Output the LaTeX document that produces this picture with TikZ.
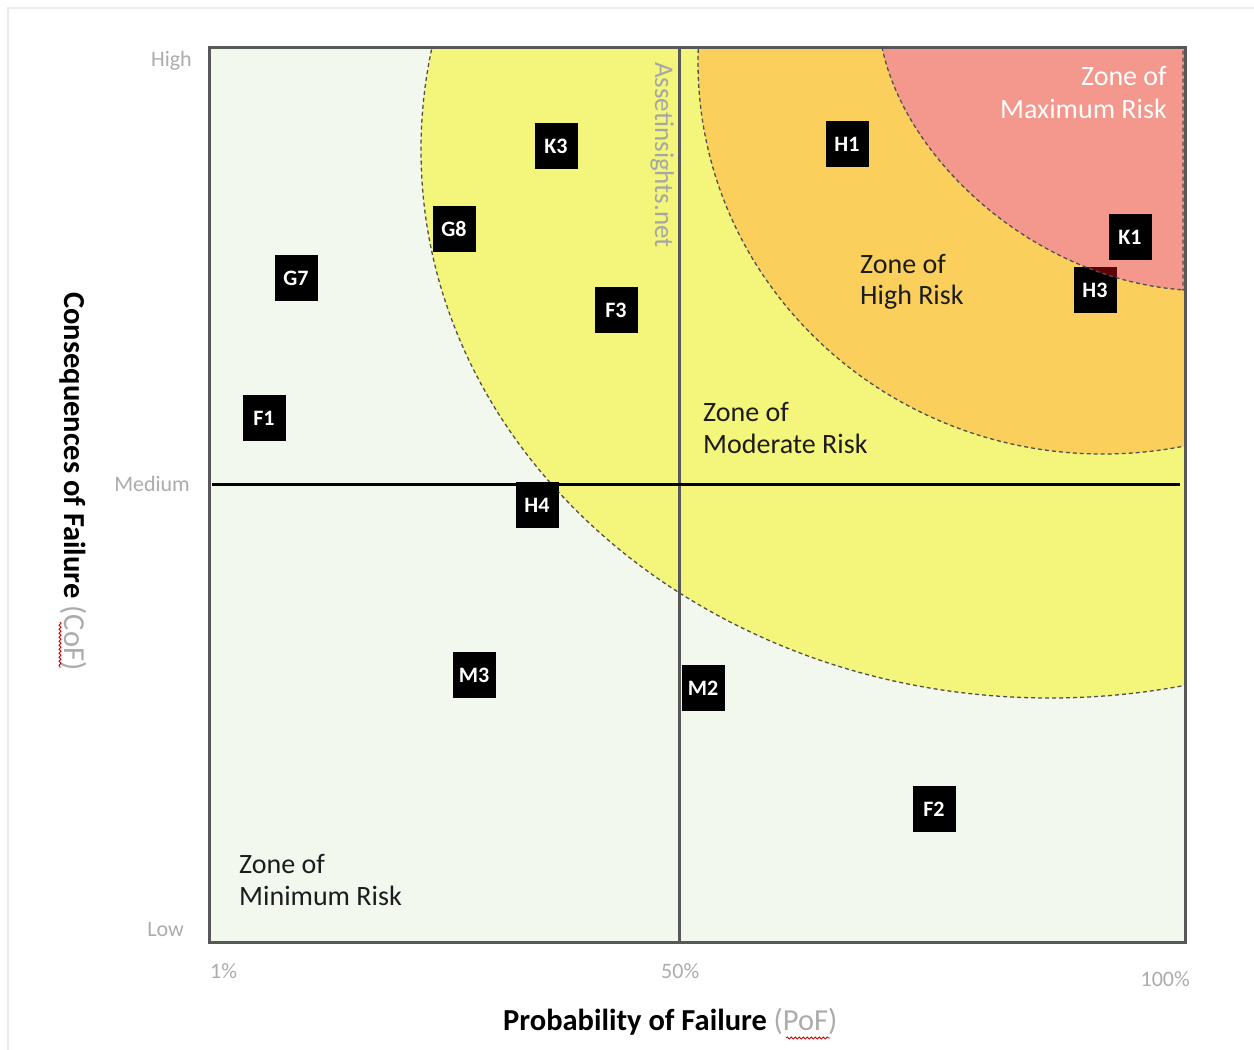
\documentclass[tikz,border=0pt]{standalone}
\usepackage{fontspec}
\setmainfont{Carlito}
\usetikzlibrary{decorations.pathmorphing}
\definecolor{plotbg}{RGB}{242,248,237}
\definecolor{modzone}{RGB}{243,246,122}
\definecolor{highzone}{RGB}{250,207,92}
\definecolor{maxzone}{RGB}{244,151,141}
\definecolor{framegray}{RGB}{88,88,88}
\definecolor{tickgray}{RGB}{172,172,172}
\definecolor{edgegray}{RGB}{80,80,80}
\definecolor{shadowred}{RGB}{92,4,10}
\definecolor{labelink}{RGB}{28,28,28}
\begin{document}
\begin{tikzpicture}[x=1pt,y=-1pt,
  badge/.style={fill=black, minimum width=43pt, minimum height=46pt, inner sep=0pt,
    text=white, font=\fontsize{22}{22}\selectfont\bfseries},
  zoneborder/.style={draw=edgegray, line width=1.3pt, dash pattern=on 4pt off 3pt},
  zonetext/.style={font=\fontsize{28}{28}\selectfont, text=labelink, inner sep=0pt},
  ticktext/.style={font=\fontsize{22}{22}\selectfont, text=tickgray, inner sep=0pt},
  axistitle/.style={font=\fontsize{30.5}{30.5}\selectfont\bfseries, inner sep=0pt},
  squiggle/.style={draw=red!80!black, line width=0.8pt, decorate,
    decoration={snake, amplitude=1.1pt, segment length=4pt}},
  maxedge/.style={insert path={(882,47) .. controls (905,160) and (1035,280) .. (1185,290)}}
]
\useasboundingbox (0,0) rectangle (1254,1050);
\fill[white] (0,0) rectangle (1254,1050);
% faint page edge
\draw[black!8, line width=1.5pt] (8,1050) -- (8,8) -- (1254,8);

% plot area
\coordinate (plotNW) at (209,47);
\coordinate (plotSE) at (1185,942);
\fill[plotbg] (plotNW) rectangle (plotSE);

% risk zones
\begin{scope}
  \clip (plotNW) rectangle (plotSE);
  \fill[modzone] (1050,150) ellipse [x radius=629pt, y radius=548pt];
  \draw[zoneborder] (1050,150) ellipse [x radius=629pt, y radius=548pt];
  \fill[highzone] (1103,62) ellipse [x radius=405pt, y radius=392pt];
  \draw[zoneborder] (1103,62) ellipse [x radius=405pt, y radius=392pt];
  \fill[maxzone, maxedge] -- (1185,47) -- cycle;
\end{scope}

% watermark
\node[rotate=-90, anchor=base west, inner sep=0pt, text=black!35,
  font=\fontsize{27}{27}\selectfont] (mark) at (655,62) {Assetinsights.net};

% quadrant dividers
\coordinate (midTop) at (679,47);
\coordinate (midBot) at (679,942);
\coordinate (midL) at (212,484);
\coordinate (midR) at (1180,484);
\draw[framegray, line width=3pt] (midTop) -- (midBot);
\draw[black, line width=3pt] (midL) -- (midR);

% plot frame
\draw[framegray, line width=3pt] (plotNW) rectangle (plotSE);

% assets
\node[badge] (K3) at (556,146) {K3};
\node[badge] (G8) at (454,229) {G8};
\node[badge] (F3) at (616,310) {F3};
\node[badge] (G7) at (296,278) {G7};
\node[badge] (F1) at (264,418) {F1};
\node[badge] (H1) at (847,144) {H1};
\node[badge] (H3) at (1095,290) {H3};
\node[badge] (H4) at (537,505) {H4};
\node[badge] (M3) at (474,675) {M3};
\node[badge] (M2) at (703,688) {M2};
\node[badge] (F2) at (934,809) {F2};

% part of H3 lying in the maximum-risk zone
\begin{scope}
  \clip[maxedge] -- (1185,47) -- cycle;
  \fill[shadowred] (H3.south west) rectangle (H3.north east);
\end{scope}
\begin{scope}
  \clip (plotNW) rectangle (plotSE);
  \draw[zoneborder, maxedge] -- (1183,290) -- (1183,47);
\end{scope}
\node[badge] (K1) at (1130,237) {K1};

% zone labels
\node[zonetext, text=white, anchor=base east] (maxA) at (1167,85) {Zone of};
\node[zonetext, text=white, anchor=base east] (maxB) at (1167,118) {Maximum Risk};
\node[zonetext, anchor=base west] (highA) at (860,273) {Zone of};
\node[zonetext, anchor=base west] (highB) at (860,304) {High Risk};
\node[zonetext, anchor=base west] (modA) at (703,421) {Zone of};
\node[zonetext, anchor=base west] (modB) at (703,453) {Moderate Risk};
\node[zonetext, anchor=base west] (minA) at (239,873) {Zone of};
\node[zonetext, anchor=base west] (minB) at (239,905) {Minimum Risk};

% scale labels
\node[ticktext, anchor=base east] (tHigh) at (192,66) {High};
\node[ticktext, anchor=base east] (tMed) at (190,491) {Medium};
\node[ticktext, anchor=base east] (tLow) at (184,936) {Low};
\node[ticktext, anchor=base west] (t1) at (210,978) {1\%};
\node[ticktext, anchor=base west] (t50) at (661,978) {50\%};
\node[ticktext, anchor=base east] (t100) at (1190,986) {100\%};

% axis titles
\node[axistitle, anchor=base west] (xtitle) at (503,1030)
  {Probability of Failure \textcolor{tickgray}{\mdseries(PoF)}};
\node[axistitle, rotate=-90, anchor=base west] (ytitle) at (64,292)
  {Consequences of Failure \textcolor{tickgray}{\mdseries(CoF)}};
\coordinate (pofA) at (786,1038);
\coordinate (pofB) at (830,1038);
\coordinate (cofA) at (60,622);
\coordinate (cofB) at (60,668);
\draw[squiggle] (pofA) -- (pofB);
\draw[squiggle] (cofA) -- (cofB);
\end{tikzpicture}
\end{document}
